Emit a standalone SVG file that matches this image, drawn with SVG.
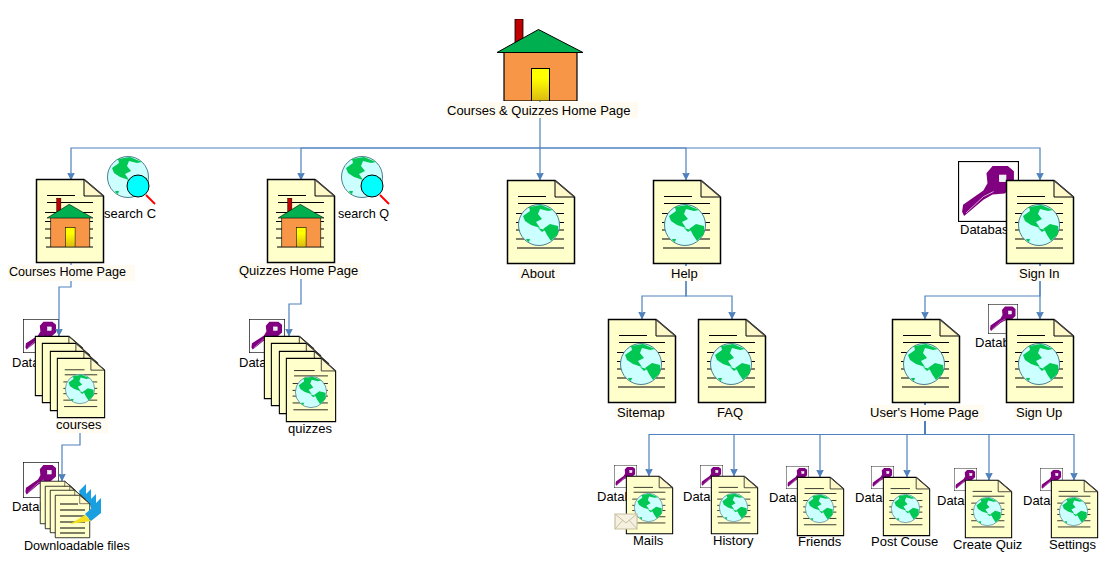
<svg xmlns="http://www.w3.org/2000/svg" width="1105" height="568" viewBox="0 0 1105 568">
<style>
text{font-family:"Liberation Sans",Arial,sans-serif;font-size:13px;fill:#000}
.t2{font-size:12.600px}
.bg{fill:#fffbf0}
.c{fill:none;stroke:#4f81bd;stroke-width:1.200}
.ln{stroke:#000;stroke-width:1.100;fill:none}
</style>
<defs>
<marker id="a" markerUnits="userSpaceOnUse" markerWidth="9" markerHeight="9" refX="7.500" refY="4.500" orient="auto"><path d="M0 .5L8 4.500L0 8.500L1 4.500Z" fill="#4f81bd"/></marker>
<linearGradient id="door" x1="0" y1="0" x2="0" y2="1"><stop offset=".3" stop-color="#ffff00"/><stop offset="1" stop-color="#dcb814"/></linearGradient>
<symbol id="sheet" viewBox="0 0 68 84" preserveAspectRatio="none" overflow="visible">
<path d="M.5 .5H48L67.500 17V83.500H.5Z" fill="#ffffcc" stroke="#000" stroke-width="1.500"/>
<path d="M48 .5V17H67.500Z" fill="#fff8c8" stroke="#000" stroke-width="1"/>
<path d="M48 .5L67.500 17" stroke="#444" stroke-width="1.500"/>
</symbol>
<symbol id="lines" viewBox="0 0 68 84" preserveAspectRatio="none" overflow="visible">
<path class="ln" d="M11 16.500H39M11 23.500H57M9 33.500H57M9 42.500H57M9 50H57M9 59H57M10 68H57"/>
</symbol>
<symbol id="globe" viewBox="0 0 42 42" overflow="visible">
<circle cx="21" cy="21" r="20.500" fill="#ccffff" stroke="#4d7f8f" stroke-width="1"/>
<path d="M5 12L12 7L11 3L23 1L35 6L30 7L22 5L20 10L24 15L18 18L22 24L13 21L7 17Z" fill="#00c853"/>
<path d="M25 25L32 20L40 22L40 30L33 37L29 31L27 27Z" fill="#00c853"/>
<path d="M20 24L27 26L24 28Z" fill="#00c853"/>
<path d="M8 35L12 35L11 38L9 37Z" fill="#00c853"/>
</symbol>
<symbol id="key" viewBox="0 0 60 60" preserveAspectRatio="none">
<rect x=".5" y=".5" width="59" height="59" fill="#fff" stroke="#000" stroke-width="1.200"/>
<path d="M5 43L25 29L29 22L28 12L34 5H49L55 10V24L46 32L34 33L25 38L6 54L4 50Z" fill="#800080"/>
<path d="M8 51L25 35L35 30" fill="none" stroke="#e8c8e8" stroke-width=".8"/>
<rect x="41" y="14" width="6" height="6" fill="#e6f4f4" stroke="#fff"/>
</symbol>
<symbol id="house" viewBox="0 0 86 82" preserveAspectRatio="none">
<rect x="18" y="0" width="8" height="26" fill="#c00000" stroke="#000" stroke-width=".8"/>
<rect x="7" y="33" width="73" height="49" fill="#f79646" stroke="#000" stroke-width="1.200"/>
<path d="M0 33.500L41.500 10.500L86 33.500Z" fill="#00b050" stroke="#000" stroke-width="1"/>
<rect x="34.500" y="49.500" width="18" height="32.500" fill="url(#door)" stroke="#000" stroke-width="1"/>
</symbol>
</defs>

<g id="key-courses"><use href="#key" x="23" y="319" width="36" height="34"/><text x="12" y="367">Database</text></g>
<g id="key-quizzes"><use href="#key" x="249" y="319" width="36" height="34"/><text x="239" y="367">Database</text></g>
<g id="key-files"><use href="#key" x="23" y="462" width="36" height="36"/><text x="12" y="511">Database</text></g>
<g id="key-signin"><use href="#key" x="958" y="161" width="61" height="61"/><text x="960" y="234">Database</text></g>
<g id="key-signup"><use href="#key" x="988" y="304" width="30" height="30"/><text x="975" y="347">Database</text></g>
<g id="key-mails"><use href="#key" x="614" y="465" width="23" height="23"/><text x="597" y="501">Database</text></g>
<g id="key-history"><use href="#key" x="700" y="465" width="23" height="23"/><text x="683" y="501">Database</text></g>
<g id="key-friends"><use href="#key" x="786" y="466" width="23" height="23"/><text x="769" y="502">Database</text></g>
<g id="key-post"><use href="#key" x="871" y="466" width="23" height="23"/><text x="855" y="502">Database</text></g>
<g id="key-quiz"><use href="#key" x="954" y="468" width="23" height="23"/><text x="937" y="505">Database</text></g>
<g id="key-settings"><use href="#key" x="1040" y="468" width="23" height="23"/><text x="1023" y="505">Database</text></g>

<g id="connectors">
<path class="c" d="M540 100V148"/>
<path class="c" marker-end="url(#a)" d="M540 148H71V180"/>
<path class="c" marker-end="url(#a)" d="M540 148H301V180"/>
<path class="c" marker-end="url(#a)" d="M540 148V180"/>
<path class="c" marker-end="url(#a)" d="M540 148H686V180"/>
<path class="c" marker-end="url(#a)" d="M540 148H1040V180"/>
<path class="c" marker-end="url(#a)" d="M71 262V287H59V336"/>
<path class="c" marker-end="url(#a)" d="M301 262V304H289V336"/>
<path class="c" marker-end="url(#a)" d="M80 416V445H62V481"/>
<path class="c" marker-end="url(#a)" d="M686 262V296H642V319"/>
<path class="c" marker-end="url(#a)" d="M686 262V296H732V319"/>
<path class="c" marker-end="url(#a)" d="M1040 262V296H925V319"/>
<path class="c" marker-end="url(#a)" d="M1040 262V319"/>
<path class="c" marker-end="url(#a)" d="M925 402V434.500H649V476"/>
<path class="c" marker-end="url(#a)" d="M925 402V434.500H734V476"/>
<path class="c" marker-end="url(#a)" d="M925 402V434.500H820V477"/>
<path class="c" marker-end="url(#a)" d="M925 402V434.500H907V477"/>
<path class="c" marker-end="url(#a)" d="M925 402V434.500H989V480"/>
<path class="c" marker-end="url(#a)" d="M925 402V434.500H1074V480"/>
</g>

<g id="root">
<rect class="bg" x="447" y="102" width="191" height="16"/>
<use href="#house" x="497" y="19" width="86" height="82"/>
<text x="447" y="114.500">Courses &amp; Quizzes Home Page</text>
</g>

<g id="courses-home">
<rect class="bg" x="8" y="265" width="127" height="16"/>
<use href="#sheet" x="36" y="179" width="68" height="84"/><use href="#lines" x="36" y="179" width="68" height="84"/>
<use href="#house" x="47" y="198" width="46" height="49"/>
<text class="t2" x="9" y="276">Courses Home Page</text>
</g>
<g id="search-c"><use href="#globe" x="107" y="156" width="42" height="42"/><path d="M146 195L155 204" stroke="#f00" stroke-width="2"/><circle cx="138" cy="186" r="11" fill="#00ffff" stroke="#000" stroke-width="1"/><text x="104" y="218">search C</text></g>

<g id="quizzes-home">
<rect class="bg" x="238" y="263" width="123" height="16"/>
<use href="#sheet" x="267" y="179" width="68" height="84"/><use href="#lines" x="267" y="179" width="68" height="84"/>
<use href="#house" x="278" y="198" width="46" height="49"/>
<text x="239" y="275">Quizzes Home Page</text>
</g>
<g id="search-q"><use href="#globe" x="341" y="156" width="42" height="42"/><path d="M380 195L389 204" stroke="#f00" stroke-width="2"/><circle cx="372" cy="186" r="11" fill="#00ffff" stroke="#000" stroke-width="1"/><text class="t2" x="338" y="218">search Q</text></g>

<g id="about"><rect class="bg" x="518" y="266" width="42" height="15"/><use href="#sheet" x="507" y="180" width="68" height="84"/><use href="#lines" x="507" y="180" width="68" height="84"/><use href="#globe" x="518" y="204" width="42" height="42"/><text x="521" y="278">About</text></g>
<g id="help"><rect class="bg" x="669" y="266" width="34" height="15"/><use href="#sheet" x="653" y="180" width="68" height="84"/><use href="#lines" x="653" y="180" width="68" height="84"/><use href="#globe" x="664" y="204" width="42" height="42"/><text x="671" y="278">Help</text></g>
<g id="sign-in"><rect class="bg" x="1017" y="266" width="44" height="15"/><use href="#sheet" x="1006" y="180" width="68" height="84"/><use href="#lines" x="1006" y="180" width="68" height="84"/><use href="#globe" x="1018" y="204" width="42" height="42"/><text x="1019" y="278">Sign In</text></g>
<g id="sitemap"><rect class="bg" x="615" y="405" width="54" height="15"/><use href="#sheet" x="608" y="319" width="68" height="84"/><use href="#lines" x="608" y="319" width="68" height="84"/><use href="#globe" x="620" y="343" width="42" height="42"/><text x="617" y="417">Sitemap</text></g>
<g id="faq"><rect class="bg" x="715" y="405" width="34" height="15"/><use href="#sheet" x="698" y="319" width="68" height="84"/><use href="#lines" x="698" y="319" width="68" height="84"/><use href="#globe" x="710" y="343" width="42" height="42"/><text x="717" y="417">FAQ</text></g>
<g id="users-home"><rect class="bg" x="870" y="405" width="114" height="16"/><use href="#sheet" x="892" y="319" width="68" height="84"/><use href="#lines" x="892" y="319" width="68" height="84"/><use href="#globe" x="903" y="343" width="42" height="42"/><text x="870" y="417">User's Home Page</text></g>
<g id="sign-up"><rect class="bg" x="1014" y="405" width="50" height="15"/><use href="#sheet" x="1006" y="319" width="68" height="84"/><use href="#lines" x="1006" y="319" width="68" height="84"/><use href="#globe" x="1018" y="343" width="42" height="42"/><text x="1016" y="417">Sign Up</text></g>

<g id="courses">
<use href="#sheet" x="35" y="336" width="48" height="60"/><use href="#sheet" x="42" y="343" width="48" height="60"/><use href="#sheet" x="50" y="351" width="48" height="60"/><rect class="bg" x="56" y="418" width="52" height="15"/><use href="#sheet" x="57" y="358" width="48" height="60"/><use href="#lines" x="57" y="358" width="48" height="60"/><use href="#globe" x="65" y="374" width="30" height="30"/>
<text x="56" y="429">courses</text>
</g>
<g id="quizzes">
<use href="#sheet" x="264" y="336" width="50" height="63"/><use href="#sheet" x="271" y="343" width="50" height="63"/><use href="#sheet" x="279" y="351" width="50" height="63"/><use href="#sheet" x="286" y="358" width="50" height="64"/><use href="#lines" x="286" y="358" width="50" height="64"/><use href="#globe" x="295" y="376" width="32" height="32"/>
<text x="288" y="433">quizzes</text>
</g>
<g id="downloadable-files">
<path d="M79 491L86 484V498L82 501ZM84 496L91 489V503L87 506ZM89 501L96 494V508L92 511ZM94 505L101 498V512L97 515Z" fill="#1a9fe0"/>
<use href="#sheet" x="40" y="481" width="35" height="43"/><use href="#sheet" x="45" y="486" width="35" height="43"/><use href="#sheet" x="50" y="490" width="35" height="43"/><use href="#sheet" x="55" y="495" width="35" height="43"/>
<path class="ln" d="M60 504H78M60 510H85M60 516H85M60 522H85M60 528H85M60 533H85"/>
<path d="M70 524L85 515L91 521Z" fill="#f5e020"/><path d="M85 514L101 500V513L91 521Z" fill="#1a9fe0"/>
<text class="t2" x="24" y="550">Downloadable files</text>
</g>

<g id="mails"><use href="#sheet" x="626" y="476" width="47" height="58"/><use href="#lines" x="626" y="476" width="47" height="58"/><use href="#globe" x="634" y="493" width="29" height="29"/><path d="M615 514H637V529H615Z" fill="#f5f0e0" stroke="#c9c0a0" stroke-width="1.200"/><path d="M615 514L626 523L637 514M615 529L623 520M637 529L629 520" fill="none" stroke="#c9c0a0"/><text x="633" y="545">Mails</text></g>
<g id="history"><use href="#sheet" x="711" y="476" width="47" height="58"/><use href="#lines" x="711" y="476" width="47" height="58"/><use href="#globe" x="719" y="493" width="29" height="29"/><text x="713" y="545">History</text></g>
<g id="friends"><use href="#sheet" x="797" y="477" width="47" height="59"/><use href="#lines" x="797" y="477" width="47" height="59"/><use href="#globe" x="805" y="494" width="29" height="29"/><text x="798" y="546">Friends</text></g>
<g id="post-couse"><use href="#sheet" x="883" y="477" width="47" height="59"/><use href="#lines" x="883" y="477" width="47" height="59"/><use href="#globe" x="891" y="494" width="29" height="29"/><text x="871" y="546">Post Couse</text></g>
<g id="create-quiz"><use href="#sheet" x="965" y="480" width="47" height="58"/><use href="#lines" x="965" y="480" width="47" height="58"/><use href="#globe" x="973" y="497" width="29" height="29"/><text x="953" y="549">Create Quiz</text></g>
<g id="settings"><use href="#sheet" x="1051" y="480" width="47" height="58"/><use href="#lines" x="1051" y="480" width="47" height="58"/><use href="#globe" x="1059" y="497" width="29" height="29"/><text x="1049" y="549">Settings</text></g>
</svg>
